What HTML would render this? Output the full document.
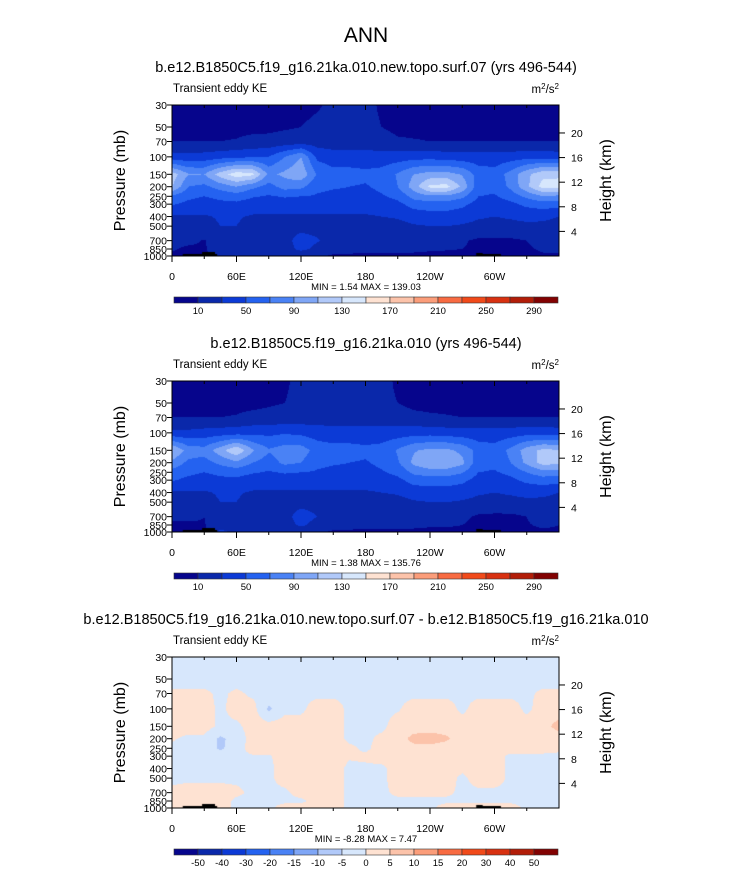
<!DOCTYPE html>
<html><head><meta charset="utf-8"><style>
html,body{margin:0;padding:0;background:#fff;}
#root{position:relative;width:733px;height:872px;font-family:"Liberation Sans",sans-serif;}
canvas{position:absolute;}
svg{position:absolute;left:0;top:0;}
</style></head><body>
<div id="root">
<canvas id="c0" width="387" height="151" style="left:172px;top:105px"></canvas>
<canvas id="c1" width="387" height="151" style="left:172px;top:381px"></canvas>
<canvas id="c2" width="387" height="151" style="left:172px;top:657px"></canvas>
<svg id="svg" width="733" height="872"></svg>
</div>
<script>
const pressures=[30,50,70,100,150,200,250,300,400,500,700,850,1000];
const lons=[0,15,30,45,60,75,90,105,120,135,150,165,180,195,210,225,240,255,270,285,300,315,330,345,360];
const pTicks=[30,50,70,100,150,200,250,300,400,500,700,850,1000];
const hTicks=[20,16,12,8,4];
const lonTicks=[0,60,120,180,240,300];
const lonLabels=["0","60E","120E","180","120W","60W"];
const levelsKE=[10,30,50,70,90,110,130,150,170,190,210,230,250,270,290];
const labelsKE=["10","50","90","130","170","210","250","290"];
const levelsDiff=[-50,-40,-30,-20,-15,-10,-5,0,5,10,15,20,30,40,50];
const labelsDiff=["-50","-40","-30","-20","-15","-10","-5","0","5","10","15","20","30","40","50"];
const colors=["#06058c","#0a28aa","#0c3ad6","#2462f0","#4a82f5","#7fa6f6","#b1c9f9","#d7e7fc","#fee2d2","#fcc3aa","#fb9d7a","#f86b42","#f14a1a","#d83111","#b21d08","#820202"];
const ke1=[
[5,5,5,5,5,5,5,5,5,8,14,14,14,8,5,5,5,5,5,5,5,5,5,5,5],
[6,6,6,6,6,6,6,8,10,14,15,15,14,10,6,6,6,6,6,6,6,6,6,6,6],
[10,10,10,10,11,14,15,17,18,20,20,20,20,17,12,11,10,10,10,10,10,10,10,10,10],
[38,36,38,42,45,48,50,70,90,45,38,38,38,38,40,42,42,40,38,38,38,40,42,42,40],
[120,92,90,120,142,135,85,95,105,68,58,58,55,58,72,90,98,98,88,62,58,78,105,125,125],
[112,70,65,78,90,75,62,78,75,55,52,50,48,55,70,100,135,138,105,58,55,75,105,138,140],
[65,55,50,55,60,52,48,52,50,48,45,45,42,48,55,78,85,85,75,50,48,58,75,88,85],
[52,45,40,45,45,40,40,40,40,40,40,38,38,40,45,58,62,62,55,42,40,45,55,60,58],
[28,28,28,32,32,28,27,27,27,27,27,28,28,30,32,38,40,40,38,32,30,32,35,35,30],
[22,22,24,30,30,24,22,22,22,22,22,22,22,22,24,28,30,30,28,25,24,25,26,25,22],
[14,14,9,20,20,20,20,22,40,32,20,18,18,18,18,18,18,16,12,7,7,7,10,16,14],
[12,7,8,20,20,18,18,20,36,24,16,14,12,12,12,12,12,11,10,7,6,6,8,12,12],
[6,6,6,20,32,14,14,14,12,12,8,8,8,8,8,8,6,6,6,6,6,6,6,8,8]];
const ke2=[
[5,5,5,5,5,5,5,8,14,14,14,14,14,14,8,5,5,5,5,5,5,5,5,5,5],
[6,6,6,6,6,6,8,10,14,15,15,15,15,13,10,6,6,6,6,6,6,6,6,6,6],
[10,10,10,10,11,14,15,17,18,20,20,20,20,20,17,14,12,11,10,10,10,10,10,10,10],
[35,35,38,40,42,45,45,48,45,40,38,38,38,38,40,42,42,40,38,38,38,40,42,42,40],
[112,82,78,102,128,92,72,80,80,62,58,58,55,58,72,88,95,95,85,62,58,75,100,115,112],
[85,65,62,75,85,70,60,75,70,55,52,50,48,55,68,95,108,108,95,58,55,70,95,118,115],
[62,55,50,55,58,52,48,52,50,48,45,45,42,48,55,75,80,80,72,50,48,55,70,82,80],
[52,45,40,45,45,40,40,40,40,40,40,38,38,40,45,58,60,60,55,42,40,45,55,60,58],
[28,28,28,32,32,28,27,27,27,27,27,28,28,30,32,38,40,40,38,32,30,32,35,35,30],
[22,22,24,30,30,24,22,22,22,22,22,22,22,22,24,28,30,30,28,25,24,25,26,25,22],
[12,14,10,20,20,20,20,22,40,30,20,18,18,18,18,18,18,18,14,7,6,6,10,16,14],
[8,7,9,20,20,18,18,20,34,22,16,14,12,12,12,12,12,12,10,6,6,6,9,12,10],
[6,6,6,35,25,14,14,14,12,12,8,8,8,8,8,8,6,6,6,6,6,6,6,8,8]];
const diff=[
[-2,-2,-2,-2,-2,-2,-2,-2,-2,-2,-2,-2,-2,-2,-2,-2,-2,-2,-2,-2,-2,-2,-2,-2,-2],
[-2,-2,-2,-2,-2,-2,-2,-2,-2,-2,-2,-2,-2,-2,-2,-2,-2,-2,-2,-2,-2,-2,-2,-2,-2],
[1,1,1,-1,1,-1,-1,-1,-1,-1,-1,-1,-1,-1,-1,-1,-1,-1,-1,-1,-1,-1,-1,1,1],
[2,2,2,-1,2,2,-6,-1,-1,2,2,-1,-1,-1,-0.5,2,2,2,-1,2,2,2,-1,2,2],
[2,2,2,-1,-1,2,2,2,2,2,2,-1,-1,-1,2,2,2,2,2,2,2,2,2,3,7],
[0.5,-1,-1,-6,-3,2,2,2,2,2,2,-1,-1,1,2,7,8,6,2,2,2,2,2,2,2],
[-1,-1,-1,-6,-2,2,2,2,2,2,2,1,-1,2,2,3,3,2,2,2,2,2,2,2,1],
[-1,-1,-1,-1,-1,-0.5,-0.5,2,2,2,2,0.5,1,2,2,2,2,2,1,2,2,-1,-1,-1,-1],
[-1,-1,-1,-1,-1,-1,-1,2,2,2,2,-1,-1,-1,2,2,2,2,1,2,2,-1,-1,-1,-1],
[-1,-1,-1,-1,-1,-1,-1,2,2,2,2,-1,-1,-1,2,2,2,2,-1,2,2,-1,-1,-1,-1],
[1,2,2,2,1,-1,-1,-1,2,2,2,-1,-1,-1,1,1,1,1,-1,-1,-1,-1,-1,-1,-1],
[1,2,2,2,-1,-1,-1,-1,-1,2,2,-1,-1,-1,-1,-1,-1,-1,-1,-1,-1,-1,-1,-1,-1],
[1,2,2,2,-1,-1,-1,2,2,2,2,-1,-1,-1,-1,-1,-1,2,2,2,2,2,-1,-1,-1]];
const titles=["b.e12.B1850C5.f19_g16.21ka.010.new.topo.surf.07 (yrs 496-544)","b.e12.B1850C5.f19_g16.21ka.010 (yrs 496-544)","b.e12.B1850C5.f19_g16.21ka.010.new.topo.surf.07 - b.e12.B1850C5.f19_g16.21ka.010"];
const minmax=["MIN =   1.54  MAX = 139.03","MIN =   1.38  MAX = 135.76","MIN =  -8.28  MAX =   7.47"];

const PW=387,PH=151,X0=172;
const L=Math.log(1000/30);
function yP(p){return PH-PH*Math.log(1000/p)/L;}
function xL(l){return l/360*PW;}
function yH(h){return yP(1000*Math.exp(-h/7));}
const rowY=pressures.map(yP);
function sample(g,px,py){
  let fx=px/PW*(lons.length-1);let i=Math.min(Math.floor(fx),lons.length-2);let tx=fx-i;
  let j=0;while(j<rowY.length-2&&py>rowY[j+1])j++;
  let ty=(py-rowY[j])/(rowY[j+1]-rowY[j]);ty=Math.max(0,Math.min(1,ty));
  let a=g[j][i]*(1-tx)+g[j][i+1]*tx,b=g[j+1][i]*(1-tx)+g[j+1][i+1]*tx;
  return a*(1-ty)+b*ty;
}
function hex(c){return [parseInt(c.substr(1,2),16),parseInt(c.substr(3,2),16),parseInt(c.substr(5,2),16)];}
const rgb=colors.map(hex);
function paint(id,g,lev){
  const cv=document.getElementById(id),ctx=cv.getContext('2d');
  const im=ctx.createImageData(PW,PH);
  for(let y=0;y<PH;y++)for(let x=0;x<PW;x++){
    const v=sample(g,x+0.5,y+0.5);let k=0;while(k<lev.length&&v>=lev[k])k++;
    const c=rgb[k],o=(y*PW+x)*4;im.data[o]=c[0];im.data[o+1]=c[1];im.data[o+2]=c[2];im.data[o+3]=255;
  }
  ctx.putImageData(im,0,0);
  ctx.fillStyle="#000";
  ctx.fillRect(xL(10),PH-2,xL(32),2);ctx.fillRect(xL(28),PH-4,xL(12),2);
  ctx.fillRect(xL(283),PH-3,xL(6),3);ctx.fillRect(xL(286),PH-2,xL(20),2);
}
paint('c0',ke1,levelsKE);paint('c1',ke2,levelsKE);paint('c2',diff,levelsDiff);

const svg=document.getElementById('svg');const NS="http://www.w3.org/2000/svg";
function el(t,a,txt,parent){const e=document.createElementNS(NS,t);for(const k in a)e.setAttribute(k,a[k]);if(txt!==undefined)e.textContent=txt;(parent||svg).appendChild(e);return e;}
let t=el('text',{x:366,y:42,'font-size':21,'text-anchor':'middle'},'ANN');


for(let p=0;p<3;p++){
  const T=105+276*p;
  const g=el('g',{});
  
  
  let e=el('text',{x:366,y:T-33,'font-size':14.5,'text-anchor':'middle'},titles[p],g);
  
  
  e=el('text',{x:173,y:T-13,'font-size':11.5},'Transient eddy KE',g);
  
  
  e=el('text',{x:559,y:T-12,'font-size':11.5,'text-anchor':'end'},'',g);
  e.innerHTML='m<tspan dy="-4" font-size="8">2</tspan><tspan dy="4">/s</tspan><tspan dy="-4" font-size="8">2</tspan>';
  
  
  el('rect',{x:X0,y:T,width:PW,height:PH,fill:'none',stroke:'#000','stroke-width':1},g);
  pTicks.forEach(pv=>{const y=T+yP(pv);
    el('line',{x1:X0-5,x2:X0,y1:y,y2:y,stroke:'#000'},g);
    const tx=el('text',{x:X0-5,y:y+4,'font-size':10.5,'text-anchor':'end'},String(pv),g);
    
    });
  hTicks.forEach(h=>{const y=T+yH(h);
    el('line',{x1:X0+PW,x2:X0+PW+6,y1:y,y2:y,stroke:'#000'},g);
    const tx=el('text',{x:X0+PW+12,y:y+4,'font-size':10.5},String(h),g);
    
    });
  for(let l=0;l<360;l+=30){const x=X0+xL(l);
    el('line',{x1:x,x2:x,y1:T,y2:T+(l%60?3:5),stroke:'#000'},g);
    el('line',{x1:x,x2:x,y1:T+PH,y2:T+PH+(l%60?3:6),stroke:'#000'},g);}
  lonTicks.forEach((l,i)=>{const tx=el('text',{x:X0+xL(l),y:T+PH+24,'font-size':10.5,'text-anchor':'middle'},lonLabels[i],g);
    
    });
  e=el('text',{x:125,y:T+PH/2,'font-size':16,'text-anchor':'middle',transform:`rotate(-90 125 ${T+PH/2})`},'Pressure (mb)',g);
  
  
  e=el('text',{x:611,y:T+PH/2,'font-size':16,'text-anchor':'middle',transform:`rotate(-90 611 ${T+PH/2})`},'Height (km)',g);
  
  
  e=el('text',{x:366,y:T+PH+34,'font-size':9.5,'text-anchor':'middle','xml:space':'preserve'},minmax[p],g);
  
  
  const cb=el('g',{},undefined,g);
  
  
  const cy=T+192,bw=384/16;
  colors.forEach((c,i)=>{const r=el('rect',{x:174+i*bw,y:cy,width:bw,height:6,fill:c,stroke:'#333','stroke-width':0.6},undefined,cb);
    
    });
  if(p<2){labelsKE.forEach((s,i)=>{const tx=el('text',{x:174+(1+2*i)*bw,y:cy+17,'font-size':9.5,'text-anchor':'middle'},s,cb);
    
    });}
  else{labelsDiff.forEach((s,i)=>{const tx=el('text',{x:174+(1+i)*bw,y:cy+17,'font-size':9.5,'text-anchor':'middle'},s,cb);
    
    });}
}
</script>
</body></html>
